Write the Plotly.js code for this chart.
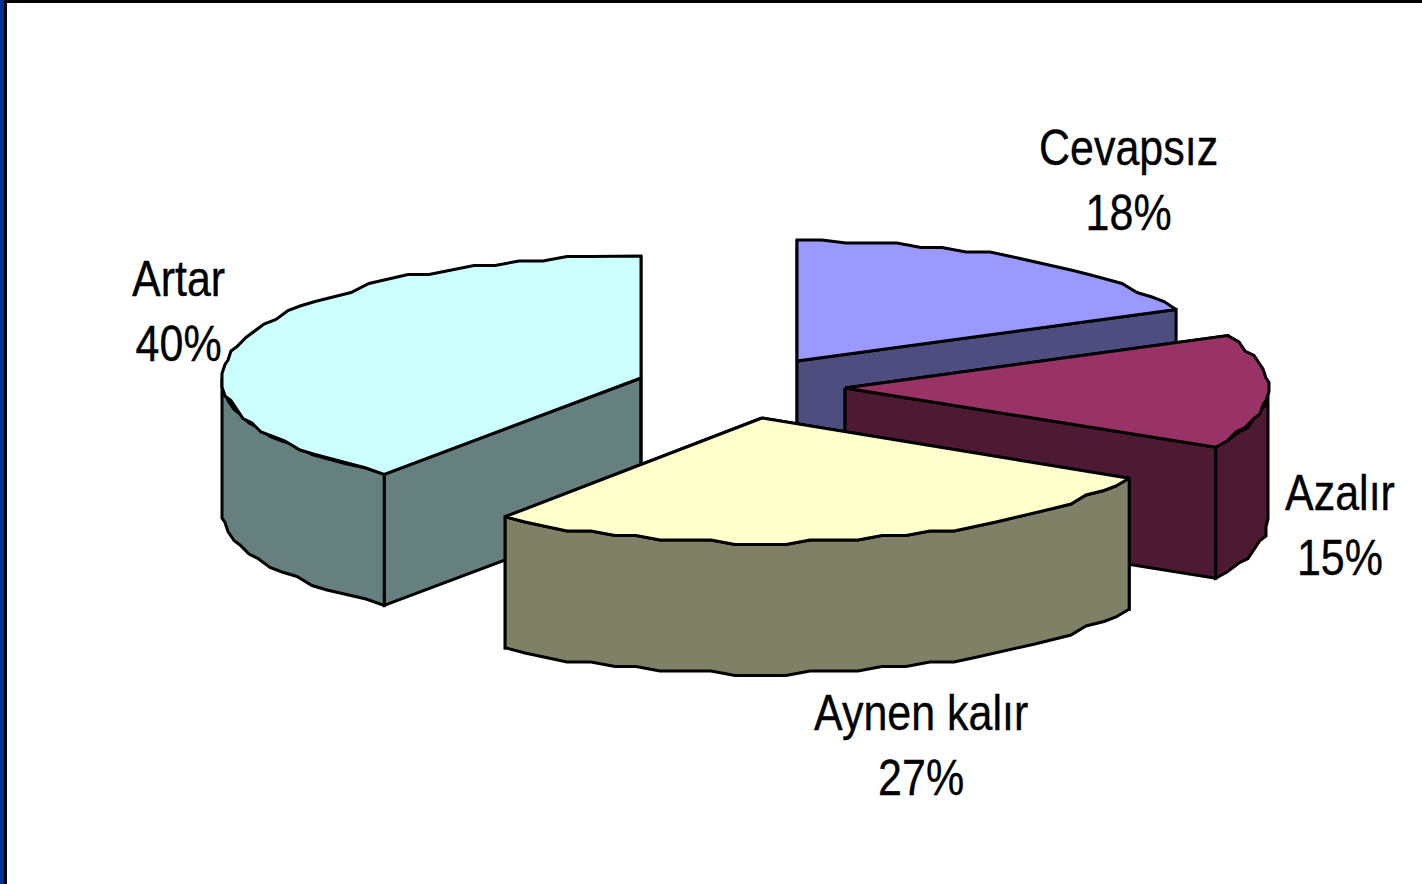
<!DOCTYPE html>
<html><head><meta charset="utf-8">
<script src="https://cdn.plot.ly/plotly-3.0.1.min.js"></script>
<style>html,body{margin:0;padding:0;background:#fff;overflow:hidden}#c{width:1422px;height:884px}
.annotation-text{transform-box:fill-box;transform-origin:center;transform:scaleX(0.86);stroke:#000;stroke-width:0.35px}
</style>
</head><body><div id="c"></div>
<script>
// Data: pie shares in clockwise order from 12 o'clock
const categories = ["Cevapsız", "Azalır", "Aynen kalır", "Artar"];
const values = [18, 15, 27.5, 39.5];
const percentLabels = ["18%", "15%", "27%", "40%"];

// Styles
const topColors = ["#9999FF", "#993366", "#FFFFCC", "#CCFFFF"];
const wallColors = ["#4D4D80", "#4D1933", "#808066", "#668080"];

// Layout of the exploded pseudo-3D pie (pixels in the 1422x884 axis space)
const apexX = [797, 845, 762, 641];
const apexY = [361, 388, 418, 378];
const radiusX = [419, 423, 419, 419];
const radiusY = [121, 123, 125, 122];
const labelX = [1128, 1340, 921, 178];
const labelY = [180, 525, 745, 311];
const DEPTH = 131, STEP_DEG = 3.4, SNAP_X = 3, SNAP_Y = 4.5;
const drawOrder = [0, 1, 3, 2];

const total = values.reduce((a, b) => a + b, 0);
const pt = (i, deg) => {
  const r = deg * Math.PI / 180;
  return [apexX[i] + radiusX[i] * Math.sin(r), apexY[i] - radiusY[i] * Math.cos(r)];
};
function arc(i, a0, a1) {
  const pts = [];
  const n = Math.max(1, Math.round((a1 - a0) / STEP_DEG));
  const yMin = apexY[i] - radiusY[i];
  for (let k = 0; k <= n; k++) {
    const p = pt(i, a0 + (a1 - a0) * k / n);
    pts.push(k === 0 || k === n ? p : [Math.round(p[0] / SNAP_X) * SNAP_X, Math.max(yMin, Math.round(p[1] / SNAP_Y) * SNAP_Y)]);
  }
  return pts;
}
function poly(pts, fill) {
  const x = pts.map(p => p[0]), y = pts.map(p => p[1]);
  x.push(x[0]); y.push(y[0]);
  return {type: "scatter", mode: "lines", x, y, fill: "toself", fillcolor: fill,
    line: {color: "#000", width: 3, shape: "linear"}, hoverinfo: "skip", showlegend: false};
}
const down = p => [p[0], p[1] + DEPTH];
const start = [];
let acc = 0;
values.forEach(v => { start.push(acc / total * 360); acc += v; });

const traces = [];
drawOrder.forEach(i => {
  const a0 = start[i], a1 = a0 + values[i] / total * 360;
  const apex = [apexX[i], apexY[i]];
  [a0, a1].forEach(a => {
    const e = pt(i, a);
    traces.push(poly([apex, e, down(e), down(apex)], wallColors[i]));
  });
  const r0 = Math.max(a0, 90), r1 = Math.min(a1, 270);
  if (r1 > r0) {
    const rim = arc(i, r0, r1);
    traces.push(poly(rim.concat(rim.slice().reverse().map(down)), wallColors[i]));
  }
  traces.push(poly([apex].concat(arc(i, a0, a1)), topColors[i]));
});

const annotations = categories.map((c, i) => ({
  x: labelX[i], y: labelY[i], xref: "x", yref: "y", showarrow: false,
  xanchor: "center", yanchor: "middle", align: "center",
  text: c + "<br>" + percentLabels[i],
  font: {family: '"Liberation Sans",Arial,sans-serif', size: 50, color: "#000"}
}));

const shapes = [
  {type: "rect", xref: "paper", yref: "paper", x0: 0, x1: 1, y0: 1, y1: 0.9966, fillcolor: "#000", line: {width: 0}, layer: "above"},
  {type: "rect", xref: "paper", yref: "paper", x0: 0, x1: 0.0049, y0: 0, y1: 1, fillcolor: "#000", line: {width: 0}, layer: "above"},
  {type: "rect", xref: "paper", yref: "paper", x0: 0, x1: 0.0028, y0: 0, y1: 1, fillcolor: "#003399", line: {width: 0}, layer: "above"}
];

Plotly.newPlot("c", traces, {
  width: 1422, height: 884, margin: {l: 0, r: 0, t: 0, b: 0},
  paper_bgcolor: "#fff", plot_bgcolor: "#fff", showlegend: false, hovermode: false,
  xaxis: {range: [0, 1422], visible: false, fixedrange: true},
  yaxis: {range: [884, 0], visible: false, fixedrange: true},
  annotations, shapes
}, {displayModeBar: false, staticPlot: true});
</script></body></html>
